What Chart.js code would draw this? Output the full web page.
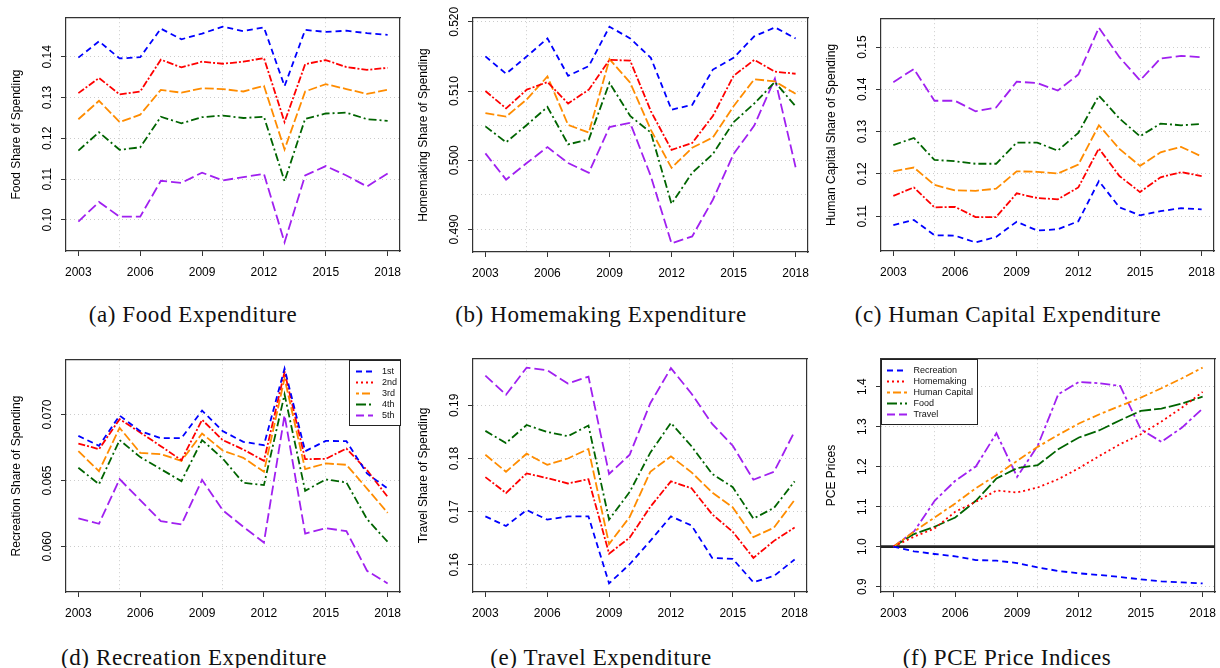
<!DOCTYPE html>
<html>
<head>
<meta charset="utf-8">
<script src="https://cdn.jsdelivr.net/npm/chart.js@4.4.1/dist/chart.umd.min.js"></script>
<style>
body { margin:0; background:#fff; width:1220px; height:668px; overflow:hidden; position:relative; }
canvas { position:absolute; }
.cap { position:absolute; width:400px; text-align:center; font-family:"Liberation Serif", serif; font-size:23px; line-height:23px; letter-spacing:0.6px; color:#111; white-space:nowrap; }
</style>
</head>
<body>
<canvas id="food"></canvas>
<canvas id="home"></canvas>
<canvas id="human"></canvas>
<canvas id="recr"></canvas>
<canvas id="travel"></canvas>
<canvas id="pce"></canvas>
<div class="cap" style="left:-7px;top:303px">(a) Food Expenditure</div>
<div class="cap" style="left:401px;top:303px">(b) Homemaking Expenditure</div>
<div class="cap" style="left:808px;top:303px">(c) Human Capital Expenditure</div>
<div class="cap" style="left:-6px;top:646px">(d) Recreation Expenditure</div>
<div class="cap" style="left:401px;top:646px">(e) Travel Expenditure</div>
<div class="cap" style="left:807px;top:646px">(f) PCE Price Indices</div>
<script>
// data
const years = [2003, 2004, 2005, 2006, 2007, 2008, 2009, 2010, 2011, 2012, 2013, 2014, 2015, 2016, 2017, 2018];
const xTicks = [2003, 2006, 2009, 2012, 2015, 2018];
const xGrid = [2005, 2010, 2015];
const quintiles = ['1st', '2nd', '3rd', '4th', '5th'];
const pceLabels = ['Recreation', 'Homemaking', 'Human Capital', 'Food', 'Travel'];

const foodQ1 = [0.1398, 0.1438, 0.1396, 0.1399, 0.1469, 0.1443, 0.1457, 0.1474, 0.1463, 0.1472, 0.1328, 0.1466, 0.1461, 0.1464, 0.1458, 0.1454];
const foodQ2 = [0.1311, 0.1348, 0.1308, 0.1315, 0.1393, 0.1374, 0.1388, 0.1383, 0.1388, 0.1397, 0.1240, 0.1382, 0.1392, 0.1375, 0.1368, 0.1373];
const foodQ3 = [0.1247, 0.1292, 0.1240, 0.1258, 0.1319, 0.1312, 0.1323, 0.1321, 0.1315, 0.1329, 0.1173, 0.1315, 0.1333, 0.1321, 0.1309, 0.1319];
const foodQ4 = [0.1170, 0.1215, 0.1172, 0.1178, 0.1253, 0.1237, 0.1252, 0.1256, 0.1250, 0.1253, 0.1095, 0.1248, 0.1261, 0.1263, 0.1247, 0.1243];
const foodQ5 = [0.0996, 0.1044, 0.1008, 0.1008, 0.1096, 0.1091, 0.1116, 0.1097, 0.1105, 0.1113, 0.0945, 0.1109, 0.1132, 0.1109, 0.1082, 0.1114];
const foodTicks = ['0.10', '0.11', '0.12', '0.13', '0.14'];

const homeQ1 = [0.5150, 0.5125, 0.5150, 0.5176, 0.5122, 0.5136, 0.5193, 0.5176, 0.5148, 0.5073, 0.5080, 0.5131, 0.5148, 0.5179, 0.5192, 0.5176];
const homeQ2 = [0.5100, 0.5075, 0.5102, 0.5113, 0.5082, 0.5102, 0.5145, 0.5144, 0.5071, 0.5015, 0.5025, 0.5064, 0.5122, 0.5145, 0.5128, 0.5125];
const homeQ3 = [0.5068, 0.5063, 0.5088, 0.5121, 0.5051, 0.5040, 0.5146, 0.5112, 0.5044, 0.4989, 0.5018, 0.5033, 0.5078, 0.5117, 0.5114, 0.5096];
const homeQ4 = [0.5049, 0.5026, 0.5051, 0.5077, 0.5023, 0.5030, 0.5112, 0.5064, 0.5040, 0.4937, 0.4982, 0.5009, 0.5055, 0.5082, 0.5113, 0.5078];
const homeQ5 = [0.5010, 0.4972, 0.4996, 0.5019, 0.4996, 0.4982, 0.5048, 0.5054, 0.4977, 0.4880, 0.4890, 0.4943, 0.5009, 0.5050, 0.5118, 0.4990];
const homeTicks = ['0.490', '0.500', '0.510', '0.520'];
const homeGrid = ['0.490', '0.495', '0.500', '0.505', '0.510', '0.515', '0.520'];

const humanQ1 = [0.1079, 0.1091, 0.1055, 0.1054, 0.1038, 0.1051, 0.1087, 0.1066, 0.1069, 0.1088, 0.1183, 0.1121, 0.1102, 0.1112, 0.1119, 0.1116];
const humanQ2 = [0.1148, 0.1168, 0.1121, 0.1122, 0.1098, 0.1098, 0.1154, 0.1143, 0.1140, 0.1168, 0.1260, 0.1195, 0.1157, 0.1192, 0.1204, 0.1195];
const humanQ3 = [0.1206, 0.1215, 0.1174, 0.1161, 0.1160, 0.1165, 0.1206, 0.1205, 0.1201, 0.1222, 0.1315, 0.1259, 0.1219, 0.1251, 0.1264, 0.1241];
const humanQ4 = [0.1268, 0.1285, 0.1233, 0.1230, 0.1224, 0.1224, 0.1274, 0.1274, 0.1255, 0.1297, 0.1385, 0.1331, 0.1289, 0.1319, 0.1315, 0.1318];
const humanQ5 = [0.1417, 0.1448, 0.1373, 0.1373, 0.1348, 0.1357, 0.1418, 0.1415, 0.1397, 0.1435, 0.1546, 0.1476, 0.1421, 0.1473, 0.1479, 0.1476];
const humanTicks = ['0.11', '0.12', '0.13', '0.14', '0.15'];

const recrQ1 = [0.06838, 0.06763, 0.06992, 0.06874, 0.06821, 0.06821, 0.07030, 0.06874, 0.06793, 0.06768, 0.07348, 0.06722, 0.06800, 0.06798, 0.06553, 0.06439];
const recrQ2 = [0.06780, 0.06737, 0.06965, 0.06864, 0.06760, 0.06654, 0.06960, 0.06806, 0.06735, 0.06649, 0.07323, 0.06662, 0.06664, 0.06742, 0.06578, 0.06376];
const recrQ3 = [0.06722, 0.06571, 0.06899, 0.06710, 0.06699, 0.06649, 0.06856, 0.06727, 0.06672, 0.06566, 0.07273, 0.06586, 0.06629, 0.06619, 0.06439, 0.06255];
const recrQ4 = [0.06596, 0.06472, 0.06806, 0.06677, 0.06586, 0.06495, 0.06806, 0.06667, 0.06482, 0.06465, 0.07152, 0.06422, 0.06508, 0.06485, 0.06207, 0.06035];
const recrQ5 = [0.06212, 0.06172, 0.06510, 0.06351, 0.06192, 0.06167, 0.06505, 0.06275, 0.06149, 0.06030, 0.06995, 0.06098, 0.06139, 0.06116, 0.05816, 0.05720];
const recrTicks = ['0.060', '0.065', '0.070'];

const travelQ1 = [0.1691, 0.1673, 0.1703, 0.1685, 0.1691, 0.1691, 0.1565, 0.1601, 0.1645, 0.1691, 0.1674, 0.1613, 0.1611, 0.1567, 0.1579, 0.1610];
const travelQ2 = [0.1765, 0.1735, 0.1772, 0.1763, 0.1753, 0.1761, 0.1621, 0.1651, 0.1709, 0.1757, 0.1744, 0.1695, 0.1662, 0.1613, 0.1645, 0.1670];
const travelQ3 = [0.1807, 0.1775, 0.1809, 0.1788, 0.1800, 0.1818, 0.1639, 0.1690, 0.1775, 0.1804, 0.1774, 0.1736, 0.1708, 0.1652, 0.1670, 0.1722];
const travelQ4 = [0.1852, 0.1829, 0.1863, 0.1850, 0.1842, 0.1862, 0.1685, 0.1737, 0.1811, 0.1867, 0.1823, 0.1771, 0.1746, 0.1687, 0.1707, 0.1757];
const travelQ5 = [0.1956, 0.1920, 0.1971, 0.1966, 0.1941, 0.1954, 0.1771, 0.1807, 0.1904, 0.1970, 0.1922, 0.1865, 0.1824, 0.1760, 0.1775, 0.1851];
const travelTicks = ['0.16', '0.17', '0.18', '0.19'];

const pceRecreation = [1.0, 0.9884, 0.9817, 0.9759, 0.9666, 0.9650, 0.9591, 0.9483, 0.9393, 0.9334, 0.9293, 0.9242, 0.9183, 0.9133, 0.9108, 0.9083];
const pceHomemaking = [1.0, 1.0248, 1.0456, 1.0872, 1.1121, 1.1404, 1.1354, 1.1479, 1.1687, 1.1962, 1.2270, 1.2561, 1.2810, 1.3126, 1.3476, 1.3867];
const pceHumanCapital = [1.0, 1.0374, 1.0730, 1.1080, 1.1463, 1.1787, 1.2145, 1.2494, 1.2794, 1.3077, 1.3309, 1.3517, 1.3725, 1.3958, 1.4208, 1.4474];
const pceFood = [1.0, 1.0316, 1.0499, 1.0730, 1.1146, 1.1704, 1.1962, 1.2037, 1.2436, 1.2729, 1.2910, 1.3160, 1.3393, 1.3451, 1.3576, 1.3750];
const pceTravel = [1.0, 1.0381, 1.1146, 1.1646, 1.2003, 1.2835, 1.1745, 1.2519, 1.3809, 1.4116, 1.4083, 1.4017, 1.2935, 1.2619, 1.2977, 1.3451];
const pceTicks = ['0.9', '1.0', '1.1', '1.2', '1.3', '1.4'];
const baseIndex = 1.0;

// styles
const colors = ['#0000ff', '#ff0000', '#ff8c00', '#006400', '#a020f0'];
const quintDash = [[6, 4], [7, 2, 2, 2], [9, 3], [8, 3, 2, 3], [10, 4]];
const pceDash = [[6, 4], [2, 3], [8, 3, 3, 3], [12, 3], [10, 3, 3, 3]];
const legendDash = [[6, 4], [2, 3], [3, 3, 8, 3], [10, 3, 2, 3], [8, 4]];
const boxColor = '#333';
const gridColor = '#cccccc';
const sans = '"Liberation Sans", Arial, sans-serif';
const tickFont = { family: sans, size: 12 };
const topRoom = 18;

const measure = document.createElement('canvas').getContext('2d');

// R style axis limits: data range plus 4% each side
function rRange(values) {
  const lo = Math.min(...values), hi = Math.max(...values);
  const pad = (hi - lo) * 0.04;
  return [lo - pad, hi + pad];
}

const noPad = s => { s.paddingLeft = 0; s.paddingRight = 0; s.paddingTop = 0; s.paddingBottom = 0; };

function boxLegend(labels, corner, width, lineX, textX) {
  return {
    id: 'boxLegend',
    afterDatasetsDraw(chart) {
      const { ctx, chartArea: a } = chart;
      const left = corner === 'right' ? a.right - width : a.left;
      const h = 65;
      ctx.save();
      ctx.fillStyle = '#fff';
      ctx.fillRect(left, a.top, width, h);
      ctx.strokeStyle = '#222';
      ctx.lineWidth = 1;
      ctx.strokeRect(left + 0.5, a.top + 0.5, width, h);
      ctx.font = '9px ' + sans;
      ctx.textBaseline = 'middle';
      labels.forEach((lab, i) => {
        const y = a.top + 11.5 + 11 * i;
        ctx.setLineDash(legendDash[i]);
        ctx.strokeStyle = colors[i];
        ctx.lineWidth = 1.8;
        ctx.beginPath();
        ctx.moveTo(left + lineX[0], y);
        ctx.lineTo(left + lineX[1], y);
        ctx.stroke();
        ctx.setLineDash([]);
        ctx.fillStyle = '#111';
        ctx.fillText(lab, left + textX, y);
      });
      ctx.restore();
    }
  };
}

const refLine = {
  id: 'refLine',
  beforeDatasetsDraw(chart) {
    const { ctx, chartArea: a, scales } = chart;
    const y = scales.y.getPixelForValue(baseIndex);
    ctx.save();
    ctx.strokeStyle = '#222';
    ctx.lineWidth = 2.6;
    ctx.beginPath();
    ctx.moveTo(a.left, y);
    ctx.lineTo(a.right, y);
    ctx.stroke();
    ctx.restore();
  }
};

function makePanel(id, box, cfg) {
  const canvas = document.getElementById(id);
  canvas.width = box[2] - box[0] + 70;
  canvas.height = box[3] - box[1] + 30 + topRoom;
  canvas.style.left = (box[0] - 66) + 'px';
  canvas.style.top = (box[1] - topRoom) + 'px';

  const [xMin, xMax] = rRange(years);
  const [yMin, yMax] = rRange(cfg.series.flat());
  const yGrid = cfg.yGrid || cfg.yTicks;
  measure.font = '12px ' + sans;
  const widest = Math.max(...cfg.yTicks.map(t => measure.measureText(t).width));

  new Chart(canvas, {
    type: 'line',
    data: {
      datasets: cfg.series.map((vals, i) => ({
        label: cfg.labels[i],
        data: years.map((yr, j) => ({ x: yr, y: vals[j] })),
        borderColor: colors[i],
        borderWidth: 1.8,
        borderDash: cfg.dashes[i],
        pointRadius: 0,
        fill: false,
        tension: 0
      }))
    },
    options: {
      responsive: false,
      animation: false,
      devicePixelRatio: 1,
      layout: { padding: { left: 0, right: 4, top: topRoom, bottom: 0 } },
      plugins: { legend: { display: false }, tooltip: { enabled: false } },
      scales: {
        x: {
          type: 'linear', position: 'bottom', min: xMin, max: xMax,
          afterBuildTicks: s => { s.ticks = xTicks.map(v => ({ value: v })); },
          afterFit: s => { s.height = 30; noPad(s); },
          ticks: { autoSkip: false, maxRotation: 0, padding: 9.5, color: '#000', font: tickFont, callback: v => String(v) },
          grid: { drawOnChartArea: false, drawTicks: true, tickLength: 5, color: boxColor },
          border: { display: true, color: boxColor, width: 1.2 }
        },
        xg: {
          type: 'linear', position: 'top', min: xMin, max: xMax,
          afterBuildTicks: s => { s.ticks = xGrid.map(v => ({ value: v })); },
          afterFit: s => { s.height = 0; noPad(s); },
          ticks: { display: false },
          grid: { drawTicks: false, color: gridColor },
          border: { display: true, color: boxColor, width: 1.2, dash: [1, 3] }
        },
        y: {
          type: 'linear', position: 'left', min: yMin, max: yMax,
          afterBuildTicks: s => { s.ticks = cfg.yTicks.map(t => ({ value: Number(t) })); },
          afterFit: s => { s.width = 66; noPad(s); },
          ticks: {
            autoSkip: false, minRotation: 90, maxRotation: 90, crossAlign: 'center',
            padding: 13.5 - widest / 2, color: '#000', font: tickFont,
            callback: (v, i) => cfg.yTicks[i]
          },
          grid: { drawOnChartArea: false, drawTicks: true, tickLength: 5, color: boxColor },
          border: { display: true, color: boxColor, width: 1.2 },
          title: { display: true, text: cfg.yTitle, color: '#000', font: tickFont, padding: { top: 9, bottom: 0 } }
        },
        yg: {
          type: 'linear', position: 'right', min: yMin, max: yMax,
          afterBuildTicks: s => { s.ticks = yGrid.map(t => ({ value: Number(t) })); },
          afterFit: s => { s.width = 0; noPad(s); },
          ticks: { display: false },
          grid: { drawTicks: false, color: gridColor },
          border: { display: true, color: boxColor, width: 1.2, dash: [1, 3] }
        }
      }
    },
    plugins: cfg.plugins || []
  });
}

makePanel('food', [66, 18, 400, 251], {
  series: [foodQ1, foodQ2, foodQ3, foodQ4, foodQ5], labels: quintiles, dashes: quintDash,
  yTicks: foodTicks, yTitle: 'Food Share of Spending'
});
makePanel('home', [473, 18, 808, 252], {
  series: [homeQ1, homeQ2, homeQ3, homeQ4, homeQ5], labels: quintiles, dashes: quintDash,
  yTicks: homeTicks, yGrid: homeGrid, yTitle: 'Homemaking Share of Spending'
});
makePanel('human', [881, 19, 1214, 251], {
  series: [humanQ1, humanQ2, humanQ3, humanQ4, humanQ5], labels: quintiles, dashes: quintDash,
  yTicks: humanTicks, yTitle: 'Human Capital Share of Spending'
});
makePanel('recr', [66, 360, 400, 592], {
  series: [recrQ1, recrQ2, recrQ3, recrQ4, recrQ5], labels: quintiles, dashes: quintDash,
  yTicks: recrTicks, yTitle: 'Recreation Share of Spending',
  plugins: [boxLegend(quintiles, 'right', 51, [7, 24], 33)]
});
makePanel('travel', [473, 359, 807, 592], {
  series: [travelQ1, travelQ2, travelQ3, travelQ4, travelQ5], labels: quintiles, dashes: quintDash,
  yTicks: travelTicks, yTitle: 'Travel Share of Spending'
});
makePanel('pce', [881, 359, 1215, 592], {
  series: [pceRecreation, pceHomemaking, pceHumanCapital, pceFood, pceTravel], labels: pceLabels, dashes: pceDash,
  yTicks: pceTicks, yTitle: 'PCE Prices',
  plugins: [refLine, boxLegend(pceLabels, 'left', 96, [6, 26], 32.5)]
});
</script>
</body>
</html>
